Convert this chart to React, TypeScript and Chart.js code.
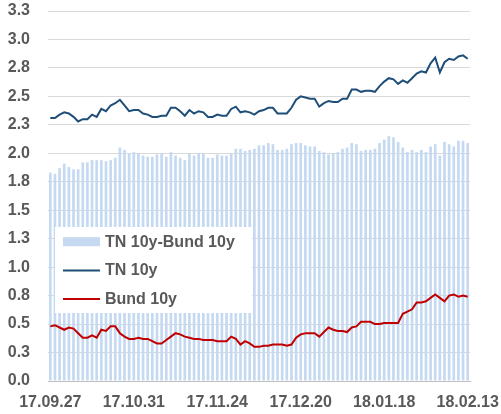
import React, { useEffect, useRef } from 'react';
import { Chart, registerables } from 'chart.js';

Chart.register(...registerables);

const tickLabels = ['17.09.27', '17.10.31', '17.11.24', '17.12.20', '18.01.18', '18.02.13'];
const tickEvery = 18;

const tn10y = [
  2.31, 2.31, 2.34, 2.36, 2.35, 2.32, 2.28, 2.30, 2.30, 2.34,
  2.32, 2.39, 2.37, 2.42, 2.44, 2.47, 2.42, 2.37, 2.38, 2.38,
  2.35, 2.34, 2.32, 2.32, 2.33, 2.33, 2.40, 2.40, 2.37, 2.33,
  2.38, 2.35, 2.37, 2.36, 2.32, 2.32, 2.34, 2.33, 2.33, 2.39,
  2.41, 2.36, 2.37, 2.36, 2.34, 2.37, 2.38, 2.40, 2.40, 2.35,
  2.35, 2.35, 2.40, 2.47, 2.50, 2.49, 2.48, 2.48, 2.41, 2.44,
  2.46, 2.45, 2.45, 2.48, 2.48, 2.56, 2.56, 2.54, 2.55, 2.55,
  2.54, 2.59, 2.63, 2.66, 2.65, 2.61, 2.64, 2.62, 2.66, 2.70,
  2.72, 2.71, 2.79, 2.84, 2.71, 2.80, 2.83, 2.82, 2.85, 2.86,
  2.83,
];

const bund10y = [
  0.48, 0.49, 0.47, 0.45, 0.47, 0.46, 0.42, 0.38, 0.38, 0.40,
  0.38, 0.45, 0.44, 0.48, 0.48, 0.42, 0.39, 0.37, 0.37, 0.38,
  0.37, 0.37, 0.35, 0.33, 0.33, 0.36, 0.39, 0.42, 0.41, 0.39,
  0.38, 0.37, 0.37, 0.36, 0.36, 0.36, 0.35, 0.35, 0.35, 0.39,
  0.37, 0.32, 0.35, 0.33, 0.30, 0.30, 0.31, 0.31, 0.32, 0.32,
  0.32, 0.31, 0.32, 0.38, 0.41, 0.42, 0.42, 0.42, 0.39, 0.43,
  0.47, 0.45, 0.44, 0.44, 0.43, 0.47, 0.48, 0.52, 0.52, 0.52,
  0.50, 0.50, 0.51, 0.51, 0.51, 0.51, 0.59, 0.61, 0.63, 0.69,
  0.69, 0.70, 0.73, 0.76, 0.73, 0.70, 0.75, 0.76, 0.74, 0.75,
  0.74,
];

const spread = [
  1.83, 1.82, 1.87, 1.91, 1.88, 1.86, 1.86, 1.92, 1.92, 1.94,
  1.94, 1.94, 1.93, 1.94, 1.96, 2.05, 2.03, 2.00, 2.01, 2.00,
  1.98, 1.97, 1.97, 1.99, 2.00, 1.97, 2.01, 1.98, 1.96, 1.94,
  2.00, 1.98, 2.00, 2.00, 1.96, 1.96, 1.99, 1.98, 1.98, 2.00,
  2.04, 2.04, 2.02, 2.03, 2.04, 2.07, 2.07, 2.09, 2.08, 2.03,
  2.03, 2.04, 2.08, 2.09, 2.09, 2.07, 2.06, 2.06, 2.02, 2.01,
  1.99, 2.00, 2.01, 2.04, 2.05, 2.09, 2.08, 2.02, 2.03, 2.03,
  2.04, 2.09, 2.12, 2.15, 2.14, 2.10, 2.05, 2.01, 2.03, 2.01,
  2.03, 2.01, 2.06, 2.08, 1.98, 2.10, 2.08, 2.06, 2.11, 2.11,
  2.09,
];

const seriesNames = ['TN 10y-Bund 10y', 'TN 10y', 'Bund 10y'];

const categories = tn10y.map((_, i) =>
  i % tickEvery === 0 && tickLabels[i / tickEvery] ? tickLabels[i / tickEvery] : ''
);

const FONT = '"Liberation Sans", Arial, sans-serif';
const TEXT = '#595959';

const boxLegend = {
  id: 'boxLegend',
  afterDatasetsDraw(chart: any) {
    const { ctx, chartArea } = chart;
    const x0 = chartArea.left + 7;
    const y0 = 227;
    ctx.save();
    ctx.fillStyle = '#ffffff';
    ctx.fillRect(x0, y0, 197, 86);
    ctx.font = `bold 16px ${FONT}`;
    ctx.textBaseline = 'middle';
    ctx.textAlign = 'left';
    chart.data.datasets.forEach((ds: any, i: number) => {
      const cy = y0 + 14.7 + i * 28.7;
      const sx = x0 + 8;
      if (ds.type === 'bar') {
        ctx.fillStyle = ds.backgroundColor;
        ctx.fillRect(sx, cy - 4.5, 37, 9);
      } else {
        ctx.strokeStyle = ds.borderColor;
        ctx.lineWidth = 2;
        ctx.beginPath();
        ctx.moveTo(sx, cy);
        ctx.lineTo(sx + 37, cy);
        ctx.stroke();
      }
      ctx.fillStyle = TEXT;
      ctx.fillText(ds.label, sx + 42, cy + 0.5);
    });
    ctx.restore();
  },
};

export default function App() {
  const ref = useRef<HTMLCanvasElement | null>(null);

  useEffect(() => {
    if (!ref.current) return;
    const chart = new Chart(ref.current, {
      type: 'bar',
      data: {
        labels: categories,
        datasets: [
          {
            type: 'bar',
            label: seriesNames[0],
            data: spread,
            backgroundColor: '#C5D9F1',
            borderWidth: 0,
            barPercentage: 0.58,
            categoryPercentage: 1,
            order: 3,
          } as any,
          {
            type: 'line',
            label: seriesNames[1],
            data: tn10y,
            borderColor: '#1F4E79',
            backgroundColor: '#1F4E79',
            borderWidth: 2,
            pointRadius: 0,
            tension: 0,
            order: 1,
          } as any,
          {
            type: 'line',
            label: seriesNames[2],
            data: bund10y,
            borderColor: '#C00000',
            backgroundColor: '#C00000',
            borderWidth: 2,
            pointRadius: 0,
            tension: 0,
            order: 0,
          } as any,
        ],
      },
      options: {
        responsive: false,
        animation: false,
        layout: { padding: { left: 0, right: 31, top: 11, bottom: 0 } },
        plugins: {
          legend: { display: false },
          tooltip: { enabled: false },
        },
        scales: {
          x: {
            offset: true,
            grid: { display: false, drawTicks: false },
            border: { display: true, color: '#BFBFBF', width: 1 },
            ticks: {
              autoSkip: false,
              maxRotation: 0,
              minRotation: 0,
              padding: 12,
              color: TEXT,
              font: { family: FONT, size: 16, weight: 'bold' },
            },
            afterFit: (scale: any) => {
              scale.height = 33;
              scale.paddingLeft = 0;
              scale.paddingRight = 0;
            },
          },
          y: {
            min: 0,
            max: 3.25,
            grid: { color: '#D9D9D9', lineWidth: 1, drawTicks: false },
            border: { display: false },
            ticks: {
              stepSize: 0.25,
              padding: 18,
              color: TEXT,
              font: { family: FONT, size: 16, weight: 'bold' },
              callback: (v: any) => Number(v).toFixed(1),
            },
            afterFit: (scale: any) => {
              scale.width = 48;
              scale.paddingTop = 0;
              scale.paddingBottom = 0;
            },
          },
        },
      },
      plugins: [boxLegend],
    });
    return () => chart.destroy();
  }, []);

  return (
    <div style={{ position: 'fixed', left: 0, top: 0, width: 501, height: 414, background: '#fff' }}>
      <canvas ref={ref} width={501} height={414} style={{ display: 'block' }} />
    </div>
  );
}
